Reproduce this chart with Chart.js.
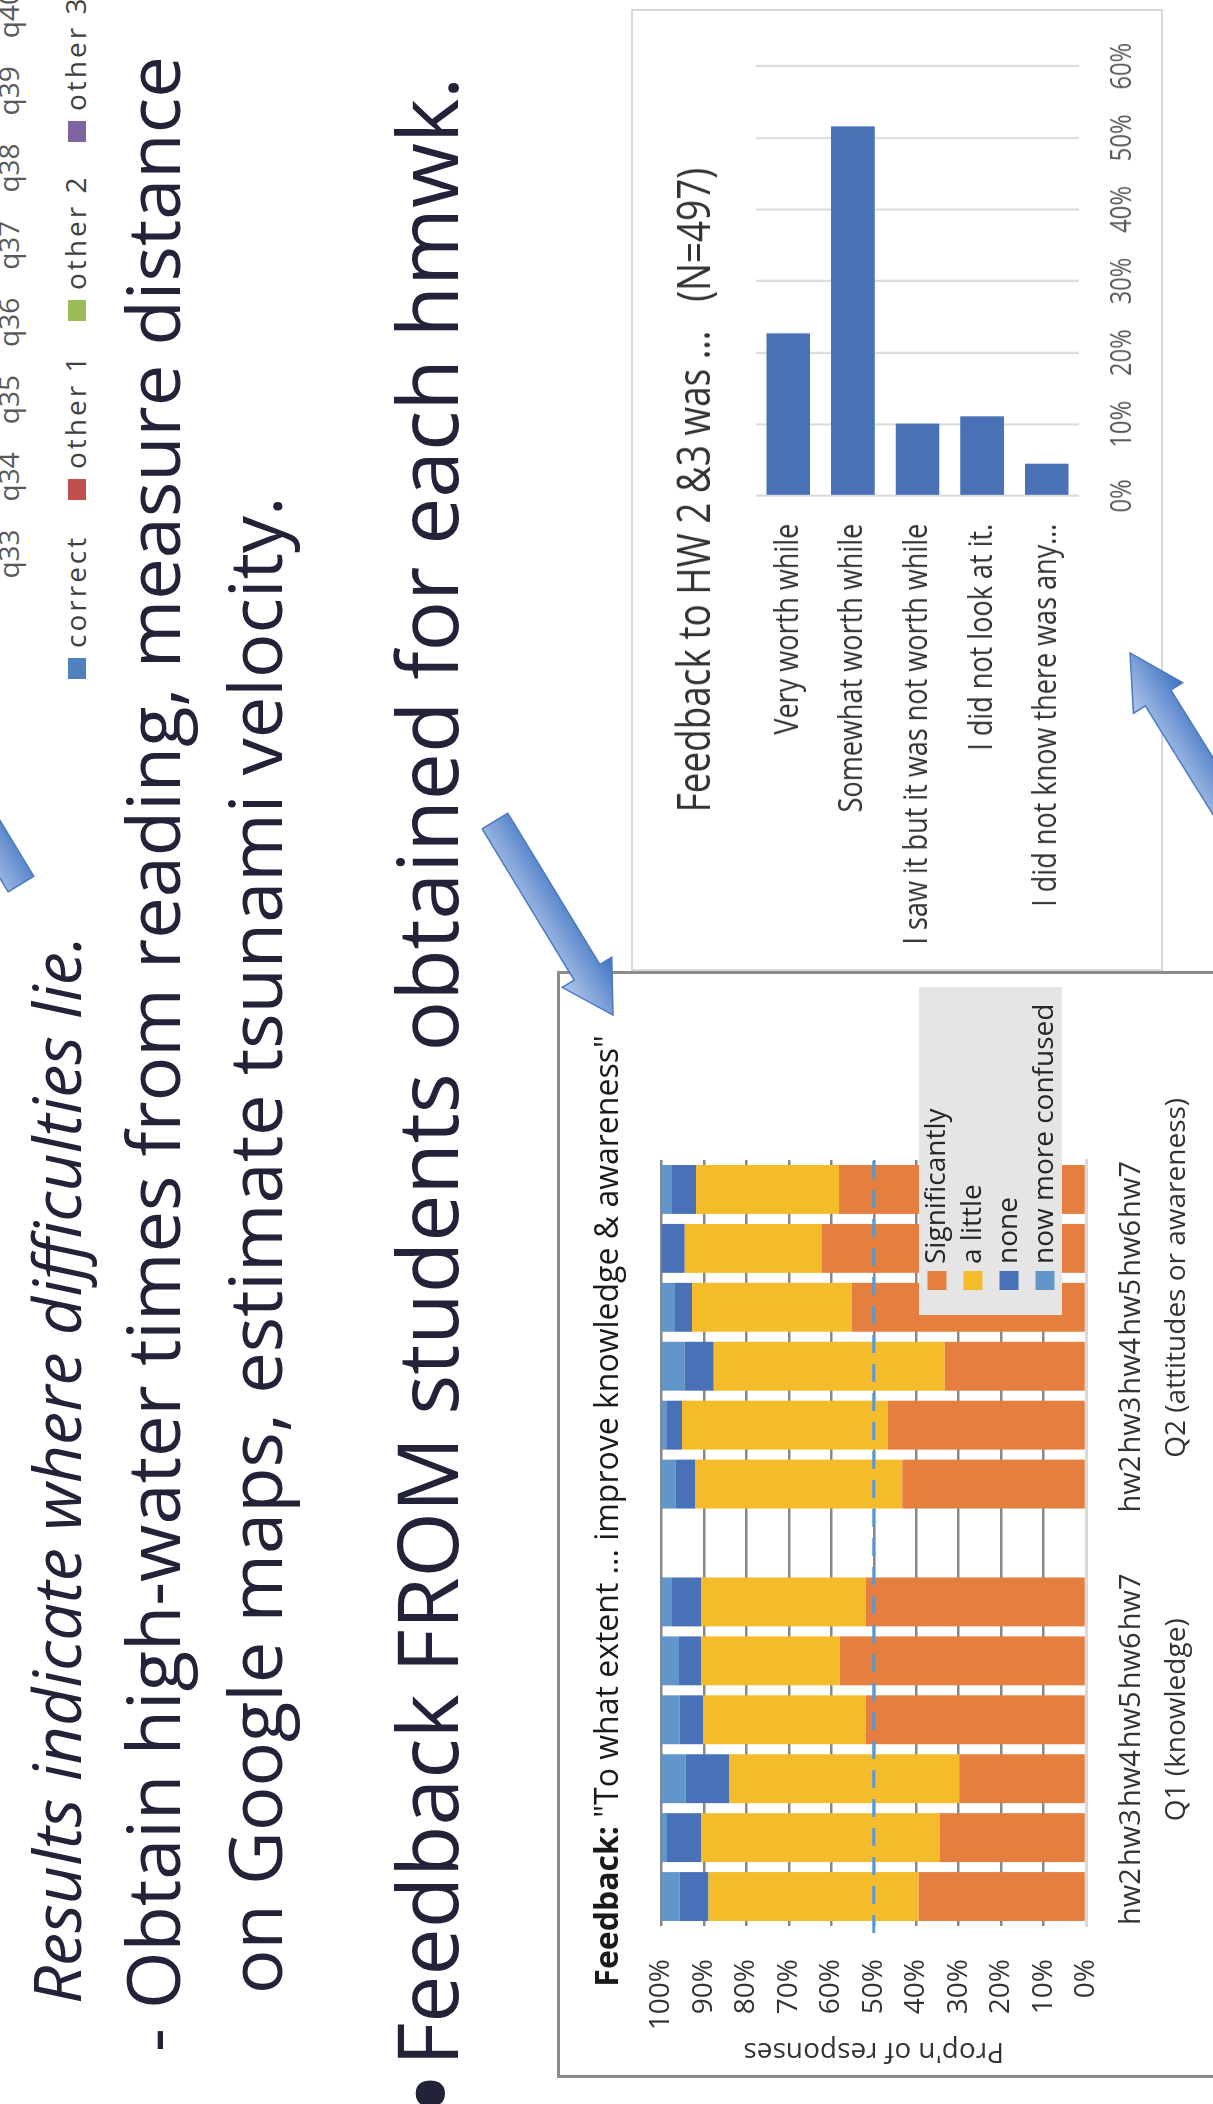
<!DOCTYPE html>
<html>
<head>
<meta charset="utf-8">
<title>Homework feedback</title>
<script src="https://cdn.jsdelivr.net/npm/chart.js@4.4.1/dist/chart.umd.min.js"></script>
<style>
  html, body { margin: 0; padding: 0; width: 1213px; height: 2104px; overflow: hidden; background: #fff; }
  /* the slide is laid out landscape and turned a quarter turn */
  #slide {
    position: absolute; left: 0; top: 0; width: 2104px; height: 1213px;
    overflow: hidden; background: #fff;
    transform-origin: 0 0; transform: translateY(2104px) rotate(-90deg);
    font-family: 'Open Sans', sans-serif; color: #222239;
  }
  .line { position: absolute; white-space: nowrap; line-height: 1; }
  .qlabel { position: absolute; font-size: 28px; line-height: 1; color: #595959; transform: translateX(-50%); white-space: nowrap; }
  .swatch { position: absolute; width: 21px; height: 18px; }
  .legtext { position: absolute; font-size: 28px; line-height: 1; color: #404040; letter-spacing: 3px; white-space: nowrap; }
  #hwBox { position: absolute; left: 1133px; top: 631px; width: 962px; height: 532px; border: 2px solid #d9d9d9; box-sizing: border-box; background: #fff; }
  #hwWrap { position: absolute; left: 0; top: 0; transform-origin: 0 0; transform: scaleX(0.82); }
  #fbBox { position: absolute; left: 26px; top: 557px; width: 1107px; height: 700px; border: 3px solid #8c8c8c; box-sizing: border-box; background: #fff; }
  #arrows { position: absolute; left: 0; top: 0; overflow: visible; }
</style>
</head>
<body>
<div id="slide">
  <div id="prevChart"></div>
  <div class="line" style="left:100px; top:22px; font-size:66.5px; font-style:italic;">Results indicate where difficulties lie.</div>
  <div class="line" style="left:52px; top:115px; font-size:74px;">- Obtain high-water times from reading, measure distance</div>
  <div class="line" style="left:110px; top:217px; font-size:74px;">on Google maps, estimate tsunami velocity.</div>
  <div class="line" style="left:-13px; top:365px; font-size:125px;">•</div>
  <div class="line" style="left:38px; top:384px; font-size:84px;">Feedback FROM students obtained for each hmwk.</div>
  <div id="hwBox"><div id="hwWrap"><canvas id="hwChart" width="1168" height="528"></canvas></div></div>
  <div id="fbBox"><canvas id="fbChart" width="1101" height="694"></canvas></div>
  <svg id="arrows" width="2104" height="1213"></svg>
</div>
<script>
// ===== DATA =====
// previous chart (only its axis labels and legend show at the top edge)
const prevQuestions = ['q33', 'q34', 'q35', 'q36', 'q37', 'q38', 'q39', 'q40'];
const prevSeries = ['correct', 'other 1', 'other 2', 'other 3'];
const prevColors = ['#4F81BD', '#C0504D', '#9BBB59', '#8064A2'];

// feedback to HW 2 & 3 (share of N=497, %)
const hwAnswers = [
    'Very worth while',
    'Somewhat worth while',
    'I saw it but it was not worth while',
    'I did not look at it.',
    'I did not know there was any…'
];
const hwShare = [22.7, 51.6, 10.1, 11.1, 4.5];

// "to what extent did the hmwk improve ..." (% of responses)
const hwNames = ['hw2', 'hw3', 'hw4', 'hw5', 'hw6', 'hw7', '', 'hw2', 'hw3', 'hw4', 'hw5', 'hw6', 'hw7'];
const groupNames = ['Q1 (knowledge)', 'Q2 (attitudes or awareness)'];
const groupCenters = [3, 10.5];
const significantly = [39.4, 34.5, 29.8, 51.8, 58.0, 51.8, null, 43.3, 46.7, 33.3, 55.2, 62.3, 58.2];
const aLittle       = [49.5, 56.2, 54.3, 38.4, 32.7, 38.9, null, 48.8, 48.5, 54.4, 37.6, 32.2, 33.7];
const noneAtAll     = [6.8, 8.0, 10.2, 5.5, 5.2, 6.8, null, 4.6, 3.7, 6.8, 4.0, 5.5, 5.6];
const moreConfused  = [4.3, 1.3, 5.7, 4.3, 4.1, 2.5, null, 3.3, 1.1, 5.5, 3.2, 0, 2.5];
const seriesNames = ['Significantly', 'a little', 'none', 'now more confused'];
const seriesValues = [significantly, aLittle, noneAtAll, moreConfused];
const seriesColors = ['#E57F3F', '#F4BC2B', '#4971B7', '#6196CA'];

// ===== CUT-OFF CHART AT THE TOP =====
const prev = document.getElementById('prevChart');
prevQuestions.forEach((q, i) => {
    const s = document.createElement('span');
    s.className = 'qlabel';
    s.textContent = q;
    s.style.left = (1550 + i * 77.2) + 'px';
    s.style.top = '-6px';
    prev.appendChild(s);
});
prevSeries.forEach((name, i) => {
    const sw = document.createElement('span');
    sw.className = 'swatch';
    sw.style.left = (1425 + i * 179) + 'px';
    sw.style.top = '68px';
    sw.style.background = prevColors[i];
    const t = document.createElement('span');
    t.className = 'legtext';
    t.textContent = name;
    t.style.left = (1456 + i * 179) + 'px';
    t.style.top = '61px';
    prev.append(sw, t);
});

// ===== CHART PLUGINS =====
Chart.defaults.font.family = "'Open Sans', sans-serif";

// title made of plain / bold pieces
const slideTitle = {
    id: 'slideTitle',
    afterDraw(chart, args, o) {
        const ctx = chart.ctx;
        const fonts = o.parts.map(p => (p.bold ? 'bold ' : '') + o.size + "px 'Open Sans', sans-serif");
        ctx.save();
        const widths = o.parts.map((p, i) => { ctx.font = fonts[i]; return ctx.measureText(p.text).width; });
        let x = o.centerX - widths.reduce((a, b) => a + b, 0) / 2;
        ctx.fillStyle = o.color;
        ctx.textAlign = 'left';
        ctx.textBaseline = 'alphabetic';
        o.parts.forEach((p, i) => {
            ctx.font = fonts[i];
            ctx.fillText(p.text, x, o.baseline);
            x += widths[i];
        });
        ctx.restore();
    }
};

// dashed reference line at 50%
const halfLine = {
    id: 'halfLine',
    afterDatasetsDraw(chart, args, o) {
        const { ctx, chartArea: a, scales: { y } } = chart;
        const py = y.getPixelForValue(o.value);
        ctx.save();
        ctx.strokeStyle = o.color;
        ctx.lineWidth = 3;
        ctx.setLineDash([18, 11]);
        ctx.beginPath();
        ctx.moveTo(a.left - 7, py);
        ctx.lineTo(a.right + 3, py);
        ctx.stroke();
        ctx.restore();
    }
};

// grey legend box sitting over the lower right of the plot
const boxLegend = {
    id: 'boxLegend',
    afterDraw(chart, args, o) {
        const { ctx, chartArea: a } = chart;
        const left = a.right + o.overhang - o.width;
        const top = a.bottom - o.lift - o.height;
        ctx.save();
        ctx.fillStyle = o.background;
        ctx.fillRect(left, top, o.width, o.height);
        ctx.font = o.size + "px 'Open Sans', sans-serif";
        ctx.textAlign = 'left';
        ctx.textBaseline = 'middle';
        chart.data.datasets.forEach((ds, i) => {
            const cy = top + o.rowHeight * (i + 0.5);
            ctx.fillStyle = ds.backgroundColor;
            ctx.fillRect(left + 25, cy - 9.5, 19, 19);
            ctx.fillStyle = o.color;
            ctx.fillText(ds.label, left + 51, cy);
        });
        ctx.restore();
    }
};

// ===== FEEDBACK TO HW 2 & 3 =====
new Chart(document.getElementById('hwChart'), {
    type: 'bar',
    data: {
        labels: hwAnswers,
        datasets: [{
            label: 'Share',
            data: hwShare,
            backgroundColor: '#4A71B6',
            barPercentage: 0.675,
            categoryPercentage: 1
        }]
    },
    options: {
        indexAxis: 'y',
        responsive: false,
        animation: false,
        layout: { padding: { left: 0, top: 123, right: 67, bottom: 0 } },
        plugins: {
            legend: { display: false },
            tooltip: { enabled: false },
            slideTitle: {
                parts: [{ text: 'Feedback to HW 2 &3 was …   (N=497)' }],
                size: 45, centerX: 584, baseline: 77, color: '#333333'
            }
        },
        scales: {
            x: {
                min: 0, max: 60,
                ticks: { stepSize: 10, callback: v => v + '%', font: { size: 29 }, color: '#595959', padding: 26 },
                grid: { color: '#d9d9d9', lineWidth: 2.4, drawTicks: false },
                border: { display: false },
                afterFit: s => { s.height = 82; }
            },
            y: {
                ticks: { font: { size: 33 }, color: '#333333', padding: 34, autoSkip: false },
                grid: { display: false, drawTicks: false },
                border: { display: false },
                afterFit: s => { s.width = 577; }
            }
        }
    },
    plugins: [slideTitle]
});

// ===== "TO WHAT EXTENT ..." STACKED =====
new Chart(document.getElementById('fbChart'), {
    type: 'bar',
    data: {
        labels: hwNames,
        datasets: seriesNames.map((name, i) => ({
            label: name,
            data: seriesValues[i],
            backgroundColor: seriesColors[i],
            barPercentage: 0.83,
            categoryPercentage: 1
        }))
    },
    options: {
        responsive: false,
        animation: false,
        layout: { padding: { left: 0, top: 101.5, right: 186, bottom: 38 } },
        plugins: {
            legend: { display: false },
            tooltip: { enabled: false },
            slideTitle: {
                parts: [
                    { text: 'Feedback:', bold: true },
                    { text: ' "To what extent ... improve knowledge & awareness"' }
                ],
                size: 32, centerX: 564, baseline: 58, color: '#1a1a1a'
            },
            halfLine: { value: 50, color: '#5B97D1' },
            boxLegend: {
                overhang: 173, lift: 24, width: 328, height: 143, rowHeight: 36,
                size: 28, background: '#e5e5e5', color: '#262626'
            }
        },
        scales: {
            x: {
                stacked: true,
                weight: 0,
                grid: { display: false, drawTicks: false },
                border: { color: '#d9d9d9', width: 3 },
                ticks: { autoSkip: false, maxRotation: 0, minRotation: 0, font: { size: 29 }, color: '#333333', padding: 28 },
                afterFit: s => { s.height = 70; }
            },
            xGroups: {
                axis: 'x',
                type: 'linear',
                position: 'bottom',
                weight: 1,
                offset: false,
                min: -0.5,
                max: hwNames.length - 0.5,
                grid: { display: false, drawTicks: false },
                border: { display: false },
                afterBuildTicks: s => { s.ticks = groupCenters.map(value => ({ value })); },
                ticks: {
                    autoSkip: false, maxRotation: 0, minRotation: 0,
                    callback: v => groupNames[groupCenters.indexOf(v)],
                    font: { size: 28 }, color: '#333333', padding: 4
                },
                afterFit: s => { s.height = 60; }
            },
            y: {
                stacked: true,
                min: 0, max: 100,
                ticks: { stepSize: 10, callback: v => v + '%', font: { size: 28 }, color: '#333333', padding: 33 },
                grid: { color: c => c.tick.value === 0 ? 'rgba(0,0,0,0)' : '#888888', lineWidth: 2.5, drawTicks: false },
                border: { display: false },
                title: { display: true, text: "Prop'n of responses", font: { size: 28 }, color: '#333333', padding: { top: 7, bottom: 4 } },
                afterFit: s => { s.width = 149; }
            }
        }
    },
    plugins: [slideTitle, halfLine, boxLegend]
});

// ===== BLOCK ARROWS =====
const arrows = [
    { tail: [1220, 21], tip: [1434, -109], shaft: 30, head: 58, headLen: 52 },
    { tail: [1283, 495], tip: [1089, 613], shaft: 30, head: 58, headLen: 50 },
    { tail: [1196, 1289], tip: [1451, 1130], shaft: 30, head: 58, headLen: 53 }
];
let defs = '', shapes = '';
arrows.forEach((a, k) => {
    const dx = a.tip[0] - a.tail[0], dy = a.tip[1] - a.tail[1];
    const len = Math.hypot(dx, dy), ux = dx / len, uy = dy / len;
    let px = -uy, py = ux;
    if (py > 0) { px = -px; py = -py; }   // light side faces the top of the slide
    const bx = a.tip[0] - ux * a.headLen, by = a.tip[1] - uy * a.headLen;
    const side = (x, y, w) => [x + px * w / 2, y + py * w / 2];
    const pts = [
        side(a.tail[0], a.tail[1], a.shaft), side(bx, by, a.shaft), side(bx, by, a.head),
        a.tip,
        side(bx, by, -a.head), side(bx, by, -a.shaft), side(a.tail[0], a.tail[1], -a.shaft)
    ];
    const g1 = side(a.tail[0], a.tail[1], a.head), g2 = side(a.tail[0], a.tail[1], -a.head);
    defs += `<linearGradient id="ag${k}" gradientUnits="userSpaceOnUse" x1="${g1[0]}" y1="${g1[1]}" x2="${g2[0]}" y2="${g2[1]}">` +
            `<stop offset="0" stop-color="#b3c8eb"/><stop offset="1" stop-color="#3f73c1"/></linearGradient>`;
    shapes += `<polygon points="${pts.map(p => p.join(',')).join(' ')}" fill="url(#ag${k})" stroke="#4a7bbf" stroke-width="1.5"/>`;
});
document.getElementById('arrows').innerHTML = `<defs>${defs}</defs>${shapes}`;
</script>
</body>
</html>
